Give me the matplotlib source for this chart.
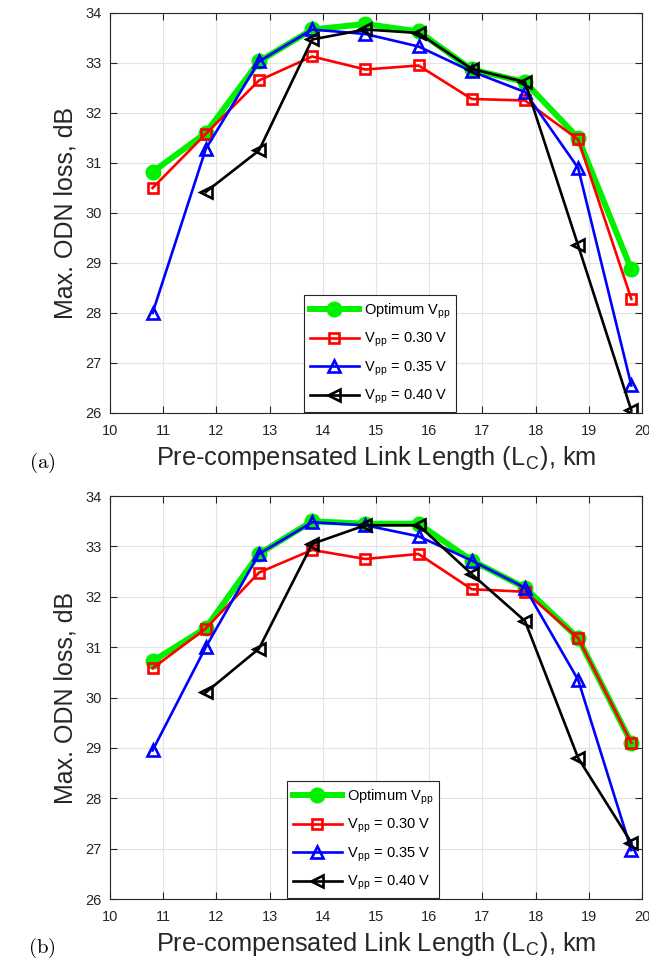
import matplotlib
matplotlib.use("Agg")
import matplotlib.pyplot as plt

plt.rcParams['font.family'] = ['Liberation Sans', 'DejaVu Sans']
plt.rcParams['mathtext.fontset'] = 'cm'

lengths = [10.8, 11.8, 12.8, 13.8, 14.8, 15.8, 16.8, 17.8, 18.8, 19.8]

# panel (a)
a_opt = [30.82, 31.60, 33.03, 33.67, 33.78, 33.63, 32.87, 32.62, 31.50, 28.87]
a_030 = [30.50, 31.58, 32.65, 33.13, 32.87, 32.95, 32.28, 32.25, 31.47, 28.28]
a_035 = [28.00, 31.28, 33.03, 33.67, 33.58, 33.33, 32.83, 32.42, 30.90, 26.55]
a_040 = [None, 30.42, 31.25, 33.47, 33.67, 33.60, 32.88, 32.62, 29.35, 26.05]

# panel (b)
b_opt = [30.72, 31.38, 32.85, 33.50, 33.45, 33.45, 32.72, 32.18, 31.18, 29.10]
b_030 = [30.58, 31.37, 32.48, 32.93, 32.75, 32.85, 32.15, 32.10, 31.18, 29.10]
b_035 = [28.95, 31.00, 32.85, 33.48, 33.42, 33.20, 32.72, 32.18, 30.35, 26.97]
b_040 = [None, 30.10, 30.97, 33.05, 33.42, 33.42, 32.45, 31.52, 28.80, 27.12]

labels = [r'Optimum V$_{\mathregular{pp}}$',
          r'V$_{\mathregular{pp}}$ = 0.30 V',
          r'V$_{\mathregular{pp}}$ = 0.35 V',
          r'V$_{\mathregular{pp}}$ = 0.40 V']

DARK = '#262626'


def pick(xs, ys):
    pts = [(x, y) for x, y in zip(xs, ys) if y is not None]
    return [p[0] for p in pts], [p[1] for p in pts]


def draw(ax, opt, v30, v35, v40, tag, leg_x, tag_y):
    ax.plot(*pick(lengths, opt), color='#00f000', lw=4.3, marker='o', ms=10.5,
            label=labels[0])
    ax.plot(*pick(lengths, v30), color='red', lw=1.9, marker='s', ms=6.5,
            mfc='none', mew=1.9, label=labels[1])
    ax.plot(*pick(lengths, v35), color='blue', lw=1.9, marker='^', ms=9,
            mfc='none', mew=1.9, label=labels[2])
    ax.plot(*pick(lengths, v40), color='black', lw=1.9, marker='<', ms=9,
            mfc='none', mew=1.9, label=labels[3])
    ax.set_xlim(10, 20)
    ax.set_ylim(26, 34)
    ax.set_xticks(range(10, 21))
    ax.set_yticks(range(26, 35))
    ax.grid(True, color='#e3e3e3', lw=0.8)
    ax.set_axisbelow(True)
    ax.tick_params(direction='in', top=True, right=True, labelsize=10.5,
                   colors=DARK, length=5)
    ax.tick_params(axis='x', pad=8)
    ax.tick_params(axis='y', pad=6)
    for s in ax.spines.values():
        s.set_color(DARK)
    ax.set_ylabel('Max. ODN loss, dB', fontsize=18, color=DARK)
    ax.yaxis.set_label_coords(-0.062, 0.5)
    ax.set_xlabel(r'Pre-compensated Link Length (L$_{\mathregular{C}}$), km',
                  fontsize=18.3, color=DARK, labelpad=4)
    leg = ax.legend(loc='lower left', bbox_to_anchor=(leg_x, 0.0),
                    fontsize=10.5, fancybox=False, edgecolor=DARK,
                    framealpha=1, handlelength=3.4, borderaxespad=0.05,
                    labelspacing=0.7, handletextpad=0.3, borderpad=0.4)
    leg.get_frame().set_linewidth(0.8)
    ax.text(-0.128, tag_y, '$\\mathrm{(' + tag + ')}$', transform=ax.transAxes,
            fontsize=15, ha='center', va='center')


fig = plt.figure(figsize=(6.49, 9.69), dpi=100)
ax1 = fig.add_axes([0.1695, 0.5738, 0.8197, 0.4128])
ax2 = fig.add_axes([0.1695, 0.0722, 0.8197, 0.4159])
draw(ax1, a_opt, a_030, a_035, a_040, 'a', 0.3628, -0.125)
draw(ax2, b_opt, b_030, b_035, b_040, 'b', 0.331, -0.122)

fig.savefig('out.png', dpi=100)
